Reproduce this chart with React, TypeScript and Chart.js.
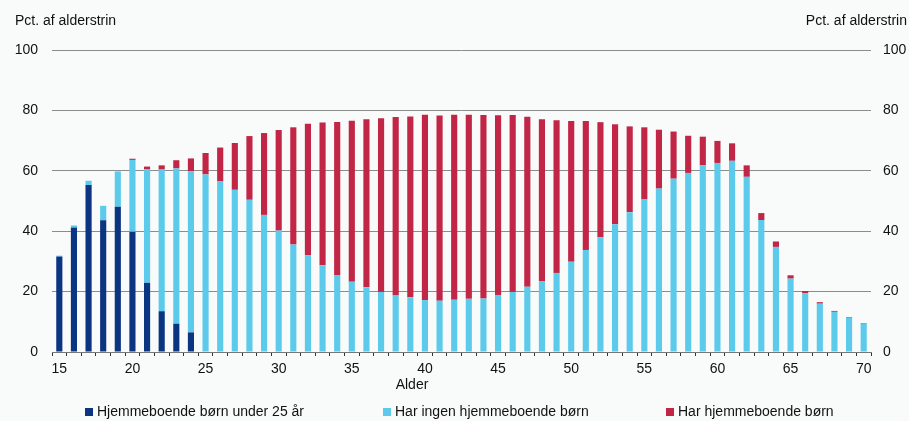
import React, { useEffect, useRef } from "react";
import { Chart, registerables } from "chart.js";

Chart.register(...registerables);

const ages = [
  "15", "16", "17", "18", "19", "20", "21", "22", "23", "24",
  "25", "26", "27", "28", "29", "30", "31", "32", "33", "34",
  "35", "36", "37", "38", "39", "40", "41", "42", "43", "44",
  "45", "46", "47", "48", "49", "50", "51", "52", "53", "54",
  "55", "56", "57", "58", "59", "60", "61", "62", "63", "64",
  "65", "66", "67", "68", "69", "70",
];

const underAge25 = [
  31.6, 41.2, 55.3, 43.6, 48.1, 39.8, 22.9, 13.5, 9.4, 6.5,
  0, 0, 0, 0, 0, 0, 0, 0, 0, 0,
  0, 0, 0, 0, 0, 0, 0, 0, 0, 0,
  0, 0, 0, 0, 0, 0, 0, 0, 0, 0,
  0, 0, 0, 0, 0, 0, 0, 0, 0, 0,
  0, 0, 0, 0, 0, 0,
];

const noChildren = [
  0.3, 0.7, 1.4, 4.8, 11.7, 23.8, 37.7, 46.9, 51.4, 53.3,
  58.8, 56.6, 53.7, 50.4, 45.4, 40.2, 35.6, 32.1, 28.7, 25.5,
  23.3, 21.4, 19.9, 18.7, 18.1, 17.2, 17.0, 17.3, 17.6, 17.7,
  18.9, 19.9, 21.6, 23.5, 26.2, 29.9, 33.8, 38.0, 42.3, 46.3,
  50.5, 54.1, 57.4, 59.3, 61.8, 62.6, 63.3, 58.0, 43.7, 34.8,
  24.3, 19.5, 16.0, 13.3, 11.3, 9.4,
];

const withChildren = [
  0, 0, 0, 0, 0, 0.4, 0.8, 1.4, 2.7, 4.3,
  7.1, 11.1, 15.5, 21.1, 27.1, 33.3, 38.8, 43.5, 47.3, 50.7,
  53.3, 55.7, 57.5, 59.1, 59.9, 61.4, 61.3, 61.3, 61.0, 60.8,
  59.5, 58.6, 56.3, 53.6, 50.5, 46.6, 42.7, 38.1, 33.1, 28.4,
  23.9, 19.5, 15.6, 12.3, 9.5, 7.3, 5.8, 3.8, 2.3, 1.8,
  1.1, 0.7, 0.5, 0.3, 0.2, 0.2,
];

const seriesNames = [
  "Hjemmeboende børn under 25 år",
  "Har ingen hjemmeboende børn",
  "Har hjemmeboende børn",
];
const seriesColors = ["#0b3580", "#5ccbeb", "#c12646"];
const yAxisTitle = "Pct. af alderstrin";
const xAxisTitle = "Alder";

const FONT = "'Liberation Sans', Arial, sans-serif";
const BG = "#f9fafa";

export default function App() {
  const ref = useRef<HTMLCanvasElement>(null);

  useEffect(() => {
    document.body.style.margin = "0";
    document.body.style.background = BG;
    const canvas = ref.current!;

    const textPlugin = {
      id: "texts",
      beforeDraw(chart: any) {
        const ctx = chart.ctx;
        ctx.save();
        ctx.fillStyle = BG;
        ctx.fillRect(0, 0, chart.width, chart.height);
        ctx.restore();
      },
      afterDraw(chart: any) {
        const ctx = chart.ctx;
        ctx.save();
        ctx.font = `14px ${FONT}`;
        ctx.fillStyle = "#111";
        ctx.textBaseline = "middle";
        ctx.textAlign = "left";
        ctx.fillText(yAxisTitle, 15, 21);
        ctx.textAlign = "right";
        ctx.fillText(yAxisTitle, 907, 21);
        ctx.textAlign = "center";
        ctx.fillText(xAxisTitle, 412, 385);
        const legendX = [85, 383, 666];
        ctx.textAlign = "left";
        seriesNames.forEach((name, i) => {
          ctx.fillStyle = seriesColors[i];
          ctx.fillRect(legendX[i], 408, 8, 8);
          ctx.fillStyle = "#111";
          ctx.fillText(name, legendX[i] + 12, 412.5);
        });
        ctx.restore();
      },
    };

    const chart = new Chart(canvas, {
      type: "bar",
      data: {
        labels: ages,
        datasets: [
          { label: seriesNames[0], data: underAge25, backgroundColor: seriesColors[0] },
          { label: seriesNames[1], data: noChildren, backgroundColor: seriesColors[1] },
          { label: seriesNames[2], data: withChildren, backgroundColor: seriesColors[2] },
        ],
      },
      options: {
        responsive: false,
        animation: false,
        layout: { padding: { top: 50, left: 0, right: 0, bottom: 0 } },
        datasets: {
          bar: { barPercentage: 0.42, categoryPercentage: 1 },
        },
        plugins: {
          legend: { display: false },
          tooltip: { enabled: false },
        },
        scales: {
          x: {
            stacked: true,
            offset: true,
            grid: {
              display: true,
              drawOnChartArea: false,
              drawTicks: true,
              tickLength: 4,
              color: "#333",
              offset: true,
            },
            border: { display: true, color: "#777", width: 1 },
            ticks: {
              autoSkip: false,
              maxRotation: 0,
              padding: 5,
              color: "#111",
              font: { family: FONT, size: 14 },
              callback: (_v: any, i: number) =>
                Number(ages[i]) % 5 === 0 ? ages[i] : "",
            },
            afterFit: (s: any) => {
              s.height = 69;
            },
          },
          y: {
            stacked: true,
            position: "left",
            min: 0,
            max: 100,
            ticks: {
              stepSize: 20,
              padding: 14,
              color: "#111",
              font: { family: FONT, size: 14 },
            },
            grid: { color: "#8c8c8c", drawTicks: false, lineWidth: 1 },
            border: { display: false },
            afterFit: (s: any) => {
              s.width = 52;
            },
          },
          y2: {
            position: "right",
            min: 0,
            max: 100,
            ticks: {
              stepSize: 20,
              padding: 12,
              color: "#111",
              font: { family: FONT, size: 14 },
            },
            grid: { display: false, drawTicks: false },
            border: { display: false },
            afterFit: (s: any) => {
              s.width = 38;
            },
          },
        },
      },
      plugins: [textPlugin],
    });

    return () => chart.destroy();
  }, []);

  return (
    <canvas
      ref={ref}
      width={909}
      height={421}
      style={{ display: "block", width: 909, height: 421 }}
    />
  );
}
